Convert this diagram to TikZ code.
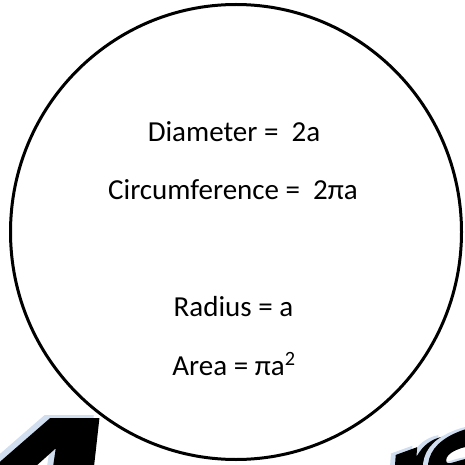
\documentclass[tikz,border=0pt]{standalone}
\usepackage{fontspec}
\usetikzlibrary{shapes.geometric}
\newfontfamily\factfont{Carlito}
\newfontfamily\wafont{DejaVu Sans}[BoldFeatures={FakeBold=1.5}]
\definecolor{shadowblue}{RGB}{208,222,240}

% one letter of the word at the foot, with its pale shadow
\newcommand\waletter[6]{% name, x, y, rotation, size, letter
  \begin{scope}[shift={(#2,#3)}, rotate=#4]
    \node[wa, font=\wafont\bfseries\fontsize{#5}{#5}\selectfont, text=shadowblue] (#1s) at (-4,3) {#6};
    \node[wa, font=\wafont\bfseries\fontsize{#5}{#5}\selectfont] (#1) at (0,0) {#6};
  \end{scope}}

\begin{document}
\begin{tikzpicture}[
    x=1pt, y=1pt,
    ring/.style={draw, ellipse, line width=3pt, minimum width=451pt, minimum height=455pt, inner sep=0pt},
    fact/.style={font=\factfont\fontsize{29}{34}\selectfont, inner sep=0pt, anchor=base},
    wa/.style={inner sep=0pt, anchor=north, xslant=0.45, transform shape}
]
\useasboundingbox (0,0) rectangle (465,464);
\clip (0,0) rectangle (465,464);

\node[ring] (ring) at (236,232) {};

\node[fact] (diam) at (234,322) {Diameter = \ 2a};
\node[fact] (circ) at (233,265) {Circumference = \ 2πa};
\node[fact] (rad) at (233.5,148) {Radius = a};
\node[fact] (area) at (234,89) {Area = πa\textsuperscript{2}};

% the word, only its top shows
\begin{scope}[xscale=1.4]
\waletter{la}{53}{45}{0}{150}{A}
\end{scope}
\waletter{ln}{150}{-17}{-15}{120}{n}
\waletter{le}{345}{-12}{15}{120}{e}
\waletter{lr}{415}{17}{20}{120}{r}
\waletter{ls}{455}{30}{25}{120}{s}
\end{tikzpicture}
\end{document}
